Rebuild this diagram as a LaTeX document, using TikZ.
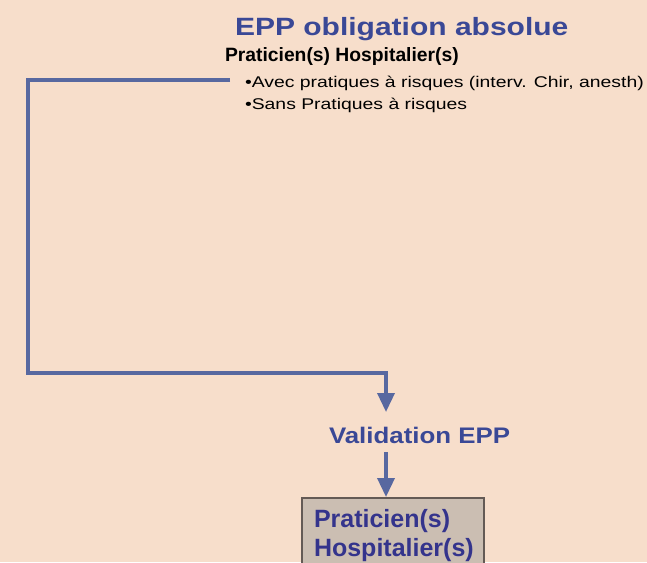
\documentclass[tikz,border=0pt]{standalone}
\usepackage{fontspec}
\setmainfont{Liberation Sans}
\newfontfamily\titlefont[FakeStretch=1.2]{Liberation Sans}
\newfontfamily\bodyfont[FakeStretch=1.25]{Liberation Sans}
\newfontfamily\validfont[FakeStretch=1.15]{Liberation Sans}
\usetikzlibrary{arrows.meta}
\definecolor{bgpeach}{RGB}{247,222,203}
\definecolor{linkblue}{RGB}{88,104,160}
\definecolor{titleblue}{RGB}{58,72,150}
\definecolor{boxfill}{RGB}{203,190,178}
\definecolor{boxline}{RGB}{100,90,85}
\definecolor{boxtext}{RGB}{52,52,140}
\tikzset{
  txt/.style={anchor=base west, inner sep=0pt, outer sep=0pt},
  link/.style={draw=linkblue, line width=3.5pt, line join=miter},
  linkarrow/.style={link, -{Triangle[width=17pt,length=19pt]}},
}
\begin{document}
\begin{tikzpicture}[x=1pt,y=-1pt]
  \clip (0,0) rectangle (647,562);
  \fill[bgpeach] (0,0) rectangle (647,562);

  \node[txt, text=titleblue, font=\titlefont\fontsize{25}{30}\selectfont\bfseries] (title) at (235,35) {EPP obligation absolue};
  \node[txt, text=black, font=\fontsize{19.3}{23}\selectfont\bfseries] (ph) at (225,61) {Praticien(s) Hospitalier(s)};
  \node[txt, text=black, font=\bodyfont\fontsize{15.5}{19}\selectfont] (avec) at (245,87) {•Avec pratiques à risques (interv. Chir, anesth)};
  \node[txt, text=black, font=\bodyfont\fontsize{15.5}{19}\selectfont] (sans) at (245,109) {•Sans Pratiques à risques};

  \node[txt, text=titleblue, font=\validfont\fontsize{22.5}{27}\selectfont\bfseries] (valid) at (329,443) {Validation EPP};

  \draw[draw=boxline, fill=boxfill, line width=2pt] (302,498) rectangle (484,575);
  \node[txt, text=boxtext, font=\fontsize{25}{30}\selectfont\bfseries] (box1) at (314,527) {Praticien(s)};
  \node[txt, text=boxtext, font=\fontsize{25}{30}\selectfont\bfseries] (box2) at (314,556) {Hospitalier(s)};

  \coordinate (start) at (230,80);
  \coordinate (c1) at (28,80);
  \coordinate (c2) at (28,373);
  \coordinate (tip1) at (386,412);
  \coordinate (from2) at (386,452);
  \coordinate (tip2) at (386,497);

  \draw[linkarrow] (start) -- (c1) -- (c2) -| (tip1);
  \draw[linkarrow] (from2) -- (tip2);
\end{tikzpicture}
\end{document}
